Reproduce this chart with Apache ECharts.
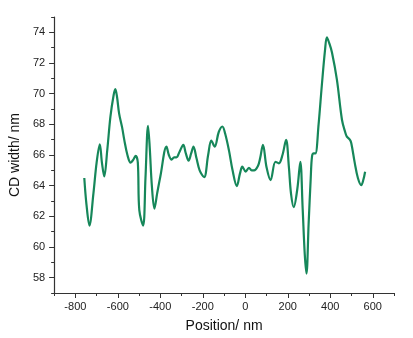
<!DOCTYPE html>
<html>
<head>
<meta charset="utf-8">
<script src="https://cdn.jsdelivr.net/npm/echarts@6/dist/echarts.min.js"></script>
<style>
html,body{margin:0;padding:0;background:#fff;}
#chart{width:413px;height:338px;}
</style>
</head>
<body>
<div id="chart"></div>
<script>
// Data
const positions = [-758,-748,-734,-715,-700,-685,-675,-664,-650,-635,-620,-612,-604,-594,-580,-570,-555,-540,-527,-516,-506,-499,-481,-470,-458,-450,-440,-428,-415,-400,-371,-360,-347,-335,-324,-310,-292,-280,-267,-255,-244,-230,-215,-194,-175,-160,-144,-125,-108,-95,-77,-60,-40,-25,-14,2,17,30,41,60,70,83,100,119,142,158,175,192,205,215,228,245,259,270,280,288,298,308,314,322,330,345,360,375,384,395,408,431,455,470,478,492,499,515,530,546,556,564];
const cdWidth = [64.5,62.8,61.4,63.5,65.5,66.7,65.5,64.6,66.3,68.5,69.9,70.3,69.8,68.7,67.8,67.0,66.0,65.5,65.7,65.95,65.5,62.4,61.4,64.5,67.9,66.5,64.0,62.5,63.5,64.6,66.55,66.0,65.7,65.85,65.85,66.2,66.66,66.1,65.63,66.1,66.55,65.8,65.0,64.55,66.0,66.94,66.55,67.5,67.86,67.4,66.3,65.0,63.97,64.8,65.24,64.91,65.17,65.0,65.0,65.3,65.8,66.66,65.2,64.36,65.56,65.46,66.0,66.99,65.24,63.5,62.6,63.8,65.56,62.5,59.5,58.27,61.5,64.5,65.9,66.1,66.1,68.0,70.5,72.8,73.67,73.3,72.69,70.93,68.3,67.5,67.2,67.0,66.77,65.5,64.5,64.03,64.4,64.91];
const xMajorTicks = [-800,-600,-400,-200,0,200,400,600];
const xMinorTicks = [-900,-700,-500,-300,-100,100,300,500,700];
const yMajorTicks = [58,60,62,64,66,68,70,72,74];
const yMinorTicks = [57,59,61,63,65,67,69,71,73,75];

const data = positions.map((p, i) => [p, cdWidth[i]]);
const lineColor = '#16875a';
const axisColor = '#333';
const font = 'Liberation Sans, Arial, sans-serif';

const chart = echarts.init(document.getElementById('chart'), null, {renderer: 'canvas'});
chart.setOption({
  animation: false,
  backgroundColor: '#fff',
  grid: {left: 54, right: 19, top: 17, bottom: 44, containLabel: false},
  xAxis: [{
    type: 'value', min: -900, max: 700, position: 'bottom',
    name: 'Position/ nm', nameLocation: 'middle', nameGap: 26,
    nameTextStyle: {fontSize: 14, color: '#111', fontFamily: font},
    axisLine: {show: true, onZero: false, lineStyle: {color: axisColor, width: 1.2}},
    axisTick: {show: true, length: 5, customValues: xMajorTicks, lineStyle: {color: axisColor}},
    axisLabel: {customValues: xMajorTicks, fontSize: 11, color: '#222', fontFamily: font, margin: 8},
    splitLine: {show: false}
  }, {
    type: 'value', min: -900, max: 700, position: 'bottom',
    axisLine: {show: false, onZero: false},
    axisTick: {show: true, length: 3, customValues: xMinorTicks, lineStyle: {color: axisColor}},
    axisLabel: {show: false},
    splitLine: {show: false}
  }],
  yAxis: [{
    type: 'value', min: 57, max: 75, position: 'left',
    name: 'CD width/ nm', nameLocation: 'middle', nameGap: 25, nameRotate: 90,
    nameTextStyle: {fontSize: 14, color: '#111', fontFamily: font},
    axisLine: {show: true, onZero: false, lineStyle: {color: axisColor, width: 1.2}},
    axisTick: {show: true, length: 5, customValues: yMajorTicks, lineStyle: {color: axisColor}},
    axisLabel: {customValues: yMajorTicks, fontSize: 11, color: '#222', fontFamily: font, margin: 9},
    splitLine: {show: false}
  }, {
    type: 'value', min: 57, max: 75, position: 'left',
    axisLine: {show: false, onZero: false},
    axisTick: {show: true, length: 3, customValues: yMinorTicks, lineStyle: {color: axisColor}},
    axisLabel: {show: false},
    splitLine: {show: false}
  }],
  series: [{
    type: 'line',
    xAxisIndex: 0, yAxisIndex: 0,
    data: data,
    smooth: 0.35,
    showSymbol: false,
    lineStyle: {color: lineColor, width: 2.2}
  }]
});
</script>
</body>
</html>
